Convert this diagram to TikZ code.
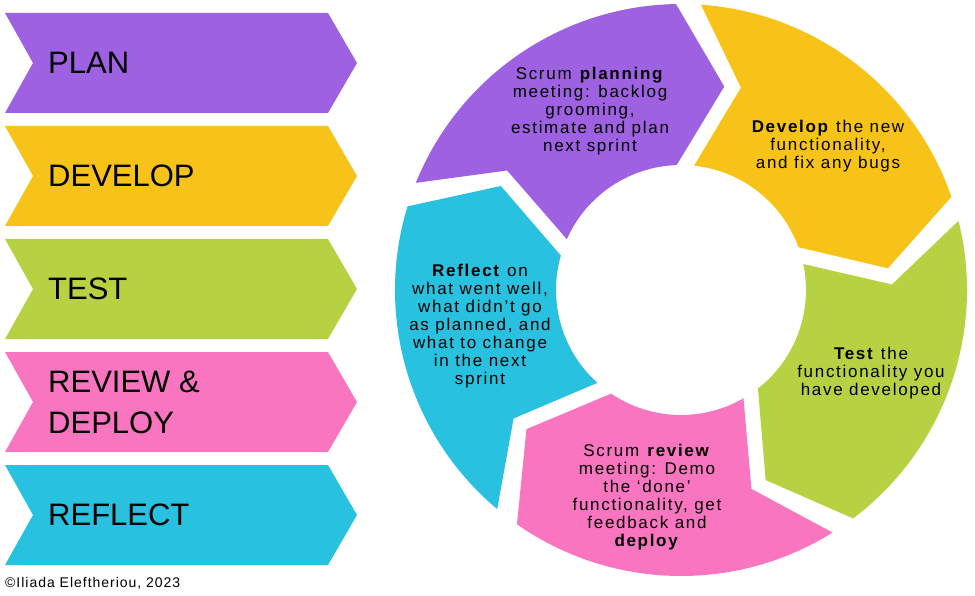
\documentclass[tikz,border=0pt]{standalone}
\usepackage{fontspec}
\setmainfont{Liberation Sans}
\newfontfamily\bodyfont{Liberation Sans}[LetterSpace=10]
\newfontfamily\creditfont{Liberation Sans}[LetterSpace=7]
\definecolor{cPlan}{RGB}{157,97,225}
\definecolor{cDev}{RGB}{248,195,24}
\definecolor{cTest}{RGB}{182,210,66}
\definecolor{cRev}{RGB}{249,117,192}
\definecolor{cRef}{RGB}{40,193,223}
\begin{document}
\begin{tikzpicture}[x=1pt,y=1pt,
  phase/.style={anchor=west,align=left,inner sep=0pt,
    font=\fontsize{31}{41}\selectfont},
  ringtext/.style={align=center,inner sep=0pt,
    font=\bodyfont\fontsize{17}{18}\selectfont},
  credit/.style={anchor=base west,inner sep=0pt,
    font=\creditfont\fontsize{14}{16}\selectfont}]
\useasboundingbox (0,0) rectangle (975,-596);

% phase chevrons on the left
\foreach \t/\col/\lab [count=\i] in {13/cPlan/PLAN, 126/cDev/DEVELOP,
    239/cTest/TEST, 352/cRev/{REVIEW \&\\DEPLOY}, 465/cRef/REFLECT}{
  \fill[\col] (5,-\t) -- (328,-\t) -- (357,-\t-50) -- (328,-\t-100)
    -- (5,-\t-100) -- (33,-\t-50) -- cycle;
  \node[phase] (phase\i) at (48,-\t-50) {\lab};
}

% circular sprint cycle
\begin{scope}[shift={(681,-290)}]
  \foreach \a/\col in {158/cPlan, 86/cDev, 14/cTest, -58/cRev, -130/cRef}{
    \fill[\col] (\a:286pt) arc[start angle=\a, end angle=\a-67, radius=286pt]
      -- ({\a-80}:208pt) -- ({\a-66}:125pt)
      arc[start angle=\a-66, end angle=\a-2, radius=125pt]
      -- ({\a-12.5}:211pt) -- cycle;
  }
\end{scope}

\node[ringtext] (plan) at (590,-111.5)
  {Scrum \textbf{planning}\\meeting: backlog\\grooming,\\estimate and plan\\next sprint};
\node[ringtext] (dev) at (828,-146.5)
  {\textbf{Develop} the new\\functionality,\\and fix any bugs};
\node[ringtext] (test) at (871,-373)
  {\textbf{Test} the\\functionality you\\have developed};
\node[ringtext] (rev) at (647,-497)
  {Scrum \textbf{review}\\meeting: Demo\\the ‘done’\\functionality, get\\feedback and\\\textbf{deploy}};
\node[ringtext] (refl) at (480,-326)
  {\textbf{Reflect} on\\what went well,\\what didn’t go\\as planned, and\\what to change\\in the next\\sprint};

\node[credit] (copy) at (5,-587) {©Iliada Eleftheriou, 2023};
\end{tikzpicture}
\end{document}
